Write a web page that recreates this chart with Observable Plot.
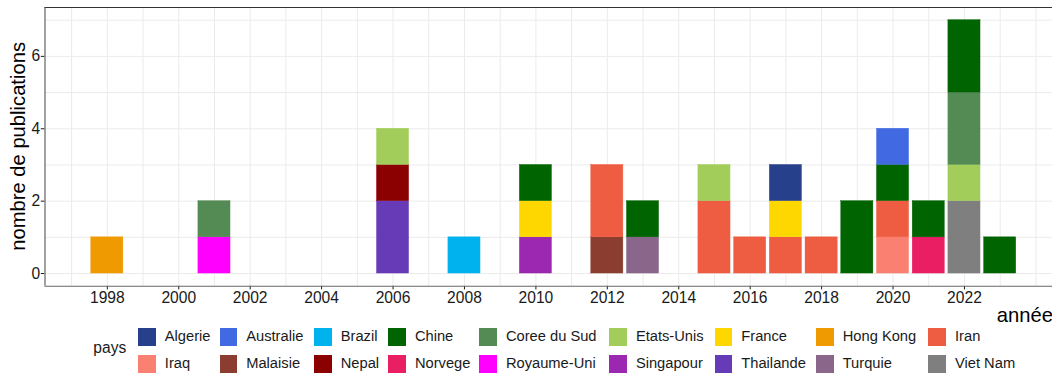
<!DOCTYPE html>
<html><head><meta charset="utf-8">
<script src="https://cdn.jsdelivr.net/npm/d3@7"></script>
<script src="https://cdn.jsdelivr.net/npm/@observablehq/plot@0.6"></script>
<style>
html,body{margin:0;padding:0;background:#fff;overflow:hidden;}
#wrap{position:relative;width:1052px;height:374px;overflow:hidden;font-family:"Liberation Sans",Arial,Helvetica,sans-serif;color:#1a1a1a;}
#chart{position:absolute;left:0;top:0;width:1070px;}
#chart svg{max-width:none !important;}
.leg{position:absolute;white-space:nowrap;}
.key{position:absolute;width:17.5px;height:17.5px;}
.lab{position:absolute;font-size:14.7px;line-height:17.5px;white-space:nowrap;}
</style></head>
<body><div id="wrap"><div id="chart"></div><div id="legend"></div></div>
<script>
// categories and colours
const countries = ["Algerie","Australie","Brazil","Chine","Coree du Sud","Etats-Unis","France","Hong Kong","Iran",
                   "Iraq","Malaisie","Nepal","Norvege","Royaume-Uni","Singapour","Thailande","Turquie","Viet Nam"];
const colors = ["#27408B","#4169E1","#00B2EE","#006400","#548B54","#A2CD5A","#FFD700","#EE9A00","#EE5C42",
                "#FA8072","#8B3E2F","#8B0000","#E91E63","#FF00FF","#9C27B0","#673AB7","#8B668B","#7F7F7F"];
// observations (bottom to top within each year)
const obsYear  = [1998, 2001, 2001, 2006, 2006, 2006, 2008, 2010, 2010, 2010, 2012, 2012, 2013, 2013, 2015, 2015, 2016,
                  2017, 2017, 2017, 2018, 2019, 2020, 2020, 2020, 2020, 2021, 2021, 2022, 2022, 2022, 2022, 2023];
const obsPays  = ["Hong Kong","Royaume-Uni","Coree du Sud","Thailande","Nepal","Etats-Unis","Brazil","Singapour","France","Chine",
                  "Malaisie","Iran","Turquie","Chine","Iran","Etats-Unis","Iran","Iran","France","Algerie","Iran","Chine",
                  "Iraq","Iran","Chine","Australie","Norvege","Chine","Viet Nam","Etats-Unis","Coree du Sud","Chine","Chine"];
const obsCount = [1, 1, 1, 2, 1, 1, 1, 1, 1, 1, 1, 2, 1, 1, 2, 1, 1, 1, 1, 1, 1, 2, 1, 1, 1, 1, 1, 1, 2, 1, 2, 2, 1];
// ticks
const xTicks = [1998, 2000, 2002, 2004, 2006, 2008, 2010, 2012, 2014, 2016, 2018, 2020, 2022];
const xMinor = [1997, 1999, 2001, 2003, 2005, 2007, 2009, 2011, 2013, 2015, 2017, 2019, 2021, 2023, 2024];
const yTicks = [0, 2, 4, 6];
const yMinor = [1, 3, 5, 7];
const xTitle = "année", yTitle = "nombre de publications", legendTitle = "pays";

const rows = obsYear.map((y, i) => ({year: y, pays: obsPays[i], n: obsCount[i]}));

const FONT = '"Liberation Sans", Arial, Helvetica, sans-serif';
const W = 1070, H = 325;
const panelL = 44.5, panelR = 1062, panelT = 7, panelB = 285.7;
const xDom = [1996.255, 2024.745], yDom = [-0.35, 7.35];

const plot = Plot.plot({
  width: W, height: H,
  marginLeft: panelL, marginRight: W - panelR, marginTop: panelT, marginBottom: H - panelB,
  style: {fontFamily: FONT, fontSize: "15.6px", color: "#1a1a1a", background: "white", overflow: "visible", maxWidth: "none"},
  x: {domain: xDom, ticks: xTicks, tickFormat: d => String(d), label: null, tickSize: 3.7, tickPadding: 2.3},
  y: {domain: yDom, ticks: yTicks, label: null, tickSize: 3.7, tickPadding: 1.2},
  color: {domain: countries, range: colors},
  marks: [
    Plot.ruleX(xMinor, {stroke: "#ebebeb", strokeWidth: 1}),
    Plot.ruleX(xTicks, {stroke: "#ebebeb", strokeWidth: 1}),
    Plot.ruleY(yMinor, {stroke: "#ebebeb", strokeWidth: 1}),
    Plot.ruleY(yTicks, {stroke: "#ebebeb", strokeWidth: 1}),
    Plot.rect(rows, Plot.stackY({x: "year", x1: d => d.year - 0.45, x2: d => d.year + 0.45, y: "n",
                                  fill: "pays", stroke: "pays", strokeWidth: 0.4})),
    Plot.ruleY([yDom[1]], {stroke: "#333", strokeWidth: 1.1}),
    Plot.ruleY([yDom[0]], {stroke: "#666", strokeWidth: 1.1}),
    Plot.ruleX([xDom[0]], {stroke: "#555", strokeWidth: 1.1})
  ]
});
plot.style.maxWidth = "none";
plot.setAttribute("width", W);
document.getElementById("chart").appendChild(plot);

// axis titles as real SVG text
const svg = d3.select(plot);
svg.append("text").text(yTitle)
  .attr("transform", `translate(25,${(panelT + panelB) / 2}) rotate(-90)`)
  .attr("text-anchor", "middle").attr("font-size", "20.2px").attr("fill", "#000").attr("font-family", FONT);
svg.append("text").text(xTitle)
  .attr("x", 1053).attr("y", 322.3)
  .attr("text-anchor", "end").attr("font-size", "20.2px").attr("fill", "#000").attr("font-family", FONT);

// legend
const leg = document.getElementById("legend");
const colX = [138.2, 219.6, 314.1, 388.3, 479.3, 609.3, 714.7, 816.1, 928.4];
const rowY = [328.2, 355.0];
const t = document.createElement("div");
t.className = "leg"; t.textContent = legendTitle;
t.style.cssText = "left:93.3px;top:338.5px;font-size:15.6px;line-height:18px;";
leg.appendChild(t);
countries.forEach((c, i) => {
  const r = Math.floor(i / 9), k = i % 9;
  const key = document.createElement("div");
  key.className = "key"; key.style.left = colX[k] + "px"; key.style.top = rowY[r] + "px"; key.style.background = colors[i];
  const lab = document.createElement("div");
  lab.className = "lab"; lab.textContent = c; lab.style.left = (colX[k] + 26.6) + "px"; lab.style.top = (rowY[r]) + "px";
  leg.appendChild(key); leg.appendChild(lab);
});
</script>
</body></html>
